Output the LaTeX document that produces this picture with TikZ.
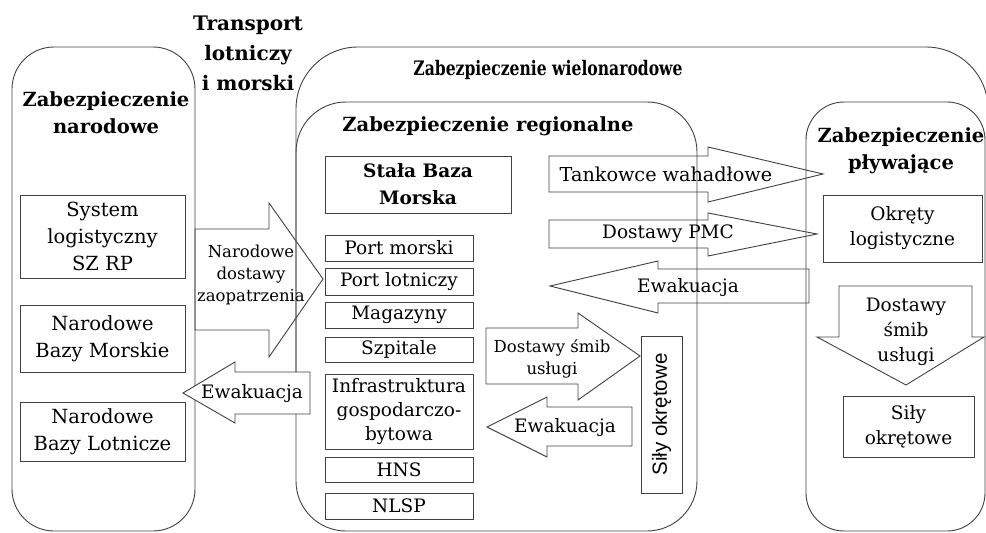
\documentclass[tikz,border=0pt]{standalone}
\usepackage{fontspec}
\setmainfont{DejaVu Serif}
\newfontfamily\sansf{Liberation Sans}
\begin{document}
\begin{tikzpicture}[x=1pt,y=-1pt,
  frame/.style={draw=black!75, line width=0.9pt},
  box/.style={frame, inner sep=0pt, align=center, font=\fontsize{18.5}{25}\selectfont},
  lbl/.style={inner sep=0pt, align=center, font=\fontsize{18.5}{25}\selectfont},
  small/.style={font=\fontsize{16.5}{22}\selectfont},
  ttl/.style={inner sep=0pt, align=center, font=\fontsize{19.5}{27}\selectfont\bfseries},
  blockarrow/.style={frame, line join=miter}]
\useasboundingbox (0,0) rectangle (986,533);

% containers
\draw[frame, rounded corners=42pt] (12,47) rectangle (195,531);
\draw[frame, rounded corners=62pt] (296,400) -- (296,47) -- (988,47) -- (988,560);
\draw[frame, rounded corners=50pt] (296,102) rectangle (697,531);
\draw[frame, rounded corners=38pt] (806,102) rectangle (985,531);

% titles
\node[ttl] (tn) at (106,113) {Zabezpieczenie\\narodowe};
\node[ttl, font=\fontsize{20}{30}\selectfont\bfseries] (tt) at (248,53) {Transport\\lotniczy\\i morski};
\node[ttl, font=\fontsize{20}{27}\selectfont\bfseries, xscale=0.78] (tw) at (548,70) {Zabezpieczenie wielonarodowe};
\node[ttl] (tr) at (488,126) {Zabezpieczenie regionalne};
\node[ttl] (tf) at (901,151) {Zabezpieczenie\\pływające};

% block arrows
\draw[blockarrow] (195,229) -- (269,229) -- (269,203) -- (323,279) -- (269,357) -- (269,330) -- (195,330) -- cycle;
\draw[blockarrow, fill=white] (310,372) -- (235,372) -- (235,362) -- (183,393) -- (235,423) -- (235,414) -- (310,414) -- cycle;
\draw[blockarrow] (549,156) -- (708,156) -- (708,147) -- (823,174) -- (708,202) -- (708,192) -- (549,192) -- cycle;
\draw[blockarrow] (549,220) -- (708,220) -- (708,213) -- (817,234) -- (708,256) -- (708,248) -- (549,248) -- cycle;
\draw[blockarrow] (809,269) -- (658,269) -- (658,261) -- (550,286) -- (658,313) -- (658,303) -- (809,303) -- cycle;
\draw[blockarrow] (486,328) -- (578,328) -- (578,313) -- (640,356) -- (578,400) -- (578,384) -- (486,384) -- cycle;
\draw[blockarrow] (632,407) -- (547,407) -- (547,397) -- (487,427) -- (547,457) -- (547,446) -- (632,446) -- cycle;
\draw[blockarrow] (839,286) -- (972,286) -- (972,337) -- (984,337) -- (906,385) -- (817,337) -- (839,337) -- cycle;

% arrow labels
\node[lbl, small] (a1) at (251,275) {Narodowe\\dostawy\\zaopatrzenia};
\node[lbl] (a2) at (252,394) {Ewakuacja};
\node[lbl, font=\fontsize{19.2}{25}\selectfont] (a3) at (666,174) {Tankowce wahadłowe};
\node[lbl] (a4) at (668,234) {Dostawy PMC};
\node[lbl] (a5) at (688,288) {Ewakuacja};
\node[lbl, small] (a6) at (552,359) {Dostawy śmib\\usługi};
\node[lbl] (a7) at (565,428) {Ewakuacja};
\node[lbl] (a8) at (906,332) {Dostawy\\śmib\\usługi};

% national boxes
\node[box, font=\fontsize{19.5}{27}\selectfont, minimum width=165pt, minimum height=83pt] (sys) at (102.5,236.5) {System\\logistyczny\\SZ RP};
\node[box, font=\fontsize{19.5}{27}\selectfont, minimum width=165pt, minimum height=67pt] (nbm) at (102.5,338.5) {Narodowe\\Bazy Morskie};
\node[box, font=\fontsize{19.5}{27}\selectfont, minimum width=165pt, minimum height=59pt] (nbl) at (102.5,431.5) {Narodowe\\Bazy Lotnicze};

% regional boxes
\node[box, font=\fontsize{18.5}{27}\selectfont\bfseries, minimum width=186pt, minimum height=57pt] (sbm) at (418,184.5) {Stała Baza\\Morska};
\node[box, minimum width=148pt, minimum height=26pt] (pm) at (399,248) {Port morski};
\node[box, minimum width=148pt, minimum height=27pt] (pl) at (399,281.5) {Port lotniczy};
\node[box, minimum width=148pt, minimum height=26pt] (mag) at (399,315) {Magazyny};
\node[box, minimum width=148pt, minimum height=25pt] (szp) at (399,349.5) {Szpitale};
\node[box, font=\fontsize{18.5}{24}\selectfont, minimum width=148pt, minimum height=75pt] (inf) at (399,411.5) {Infrastruktura\\gospodarczo-\\bytowa};
\node[box, minimum width=148pt, minimum height=25pt] (hns) at (399,469.5) {HNS};
\node[box, minimum width=148pt, minimum height=26pt] (nlsp) at (399,506) {NLSP};
\node[box, rotate=90, font=\sansf\fontsize{20.5}{22}\selectfont, minimum width=157pt, minimum height=41pt] (sov) at (661.5,414.5) {Siły okrętowe};

% floating boxes
\node[box, minimum width=159pt, minimum height=67pt] (okl) at (902.5,228.5) {Okręty\\logistyczne};
\node[box, minimum width=131pt, minimum height=61pt] (sof) at (908.5,426.5) {Siły\\okrętowe};
\end{tikzpicture}
\end{document}
